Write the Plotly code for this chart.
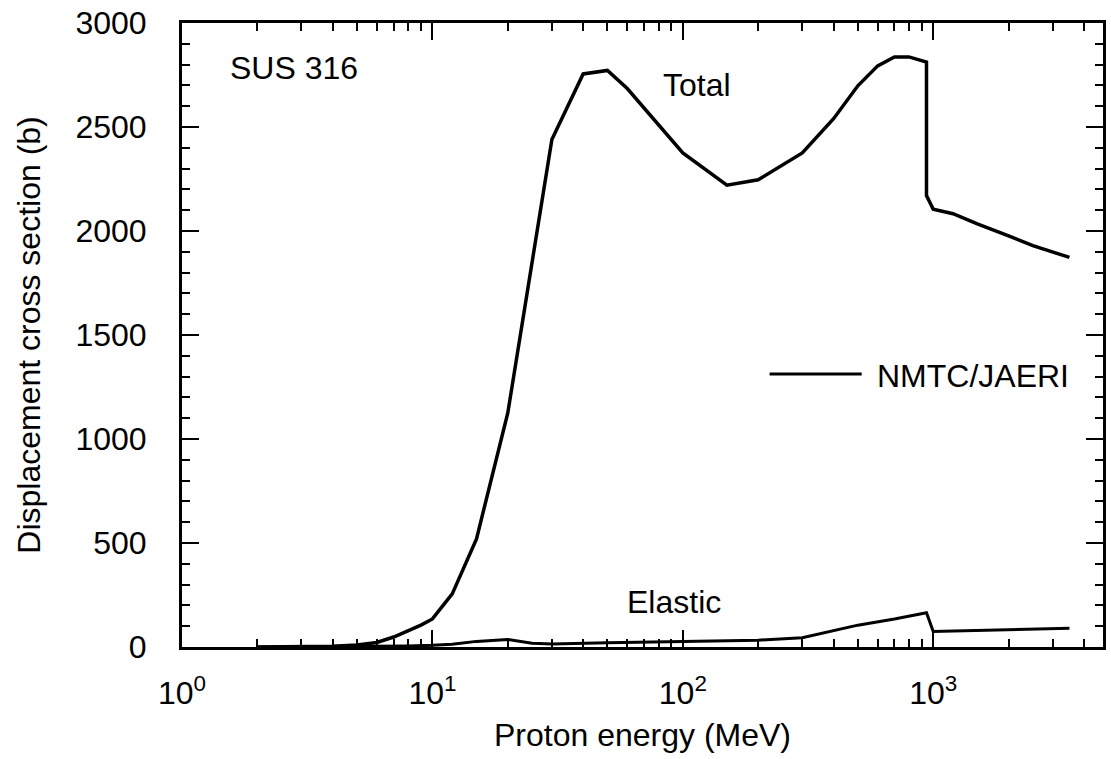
import plotly.graph_objects as go

# ---- data ----
energy_total = [2, 3, 4, 5, 6, 7, 8, 9, 10, 12, 15, 20, 30, 40, 50, 60, 100,
                150, 200, 300, 400, 500, 600, 700, 800, 940, 940, 1000, 1200,
                1500, 2000, 2500, 3500]
total_xs = [0, 1, 4, 10, 22, 48, 78, 105, 135, 255, 520, 1125, 2440, 2755,
            2772, 2685, 2375, 2220, 2246, 2375, 2540, 2698, 2794, 2837, 2837,
            2812, 2170, 2105, 2083, 2034, 1977, 1930, 1873]

energy_elastic = [2, 4, 6, 8, 10, 12, 15, 20, 25, 30, 50, 100, 150, 200, 300,
                  500, 700, 940, 1000, 3500]
elastic_xs = [0, 1, 3, 5, 8, 13, 27, 36, 18, 14, 20, 26, 29, 33, 45, 105, 135,
              165, 75, 90]

x_major = [1, 10, 100, 1000]
x_major_text = ["10<sup>0</sup>", "10<sup>1</sup>", "10<sup>2</sup>", "10<sup>3</sup>"]
x_minor = [m * d for d in (1, 10, 100) for m in range(2, 10)] + [2000, 3000, 4000]
y_minor = [v for v in range(100, 3000, 100) if v % 500 != 0]

FONT = "Liberation Sans, Arial, Helvetica, sans-serif"
FS = 32
X_RANGE = [0, 3.678]
Y_RANGE = [0, 3000]

fig = go.Figure()
fig.add_trace(go.Scatter(x=energy_total, y=total_xs, mode="lines",
                         line=dict(color="black", width=3.5),
                         name="Total", showlegend=False))
fig.add_trace(go.Scatter(x=energy_elastic, y=elastic_xs, mode="lines",
                         line=dict(color="black", width=3),
                         name="Elastic", showlegend=False))
# invisible helper trace so the top/right tick axes are drawn
fig.add_trace(go.Scatter(x=energy_total, y=total_xs, mode="lines",
                         line=dict(color="rgba(0,0,0,0)", width=0),
                         xaxis="x2", yaxis="y2", hoverinfo="skip",
                         showlegend=False))

tick_common = dict(ticks="inside", tickwidth=2, tickcolor="black",
                   showgrid=False, zeroline=False)

fig.update_layout(
    width=1111, height=759,
    margin=dict(l=182, r=5, t=23, b=112),
    plot_bgcolor="white", paper_bgcolor="white",
    font=dict(family=FONT, size=FS, color="black"),
    xaxis=dict(
        type="log", range=X_RANGE,
        showline=True, linewidth=3, linecolor="black", mirror=True,
        ticklen=17, tickvals=x_major, ticktext=x_major_text,
        tickfont=dict(size=FS), ticklabelstandoff=16,
        minor=dict(tickmode="array", tickvals=x_minor, ticks="inside",
                   ticklen=8, tickwidth=2, tickcolor="black", showgrid=False),
        title=dict(text="Proton energy (MeV)", font=dict(size=FS), standoff=14),
        **tick_common,
    ),
    xaxis2=dict(
        type="log", range=X_RANGE, overlaying="x", side="top",
        showline=False, ticklen=17, tickvals=x_major, showticklabels=False,
        minor=dict(tickmode="array", tickvals=x_minor, ticks="inside",
                   ticklen=8, tickwidth=2, tickcolor="black", showgrid=False),
        **tick_common,
    ),
    yaxis=dict(
        range=Y_RANGE,
        showline=True, linewidth=3, linecolor="black", mirror=True,
        ticklen=17, tickmode="linear", tick0=0, dtick=500,
        tickfont=dict(size=FS), ticklabelstandoff=26,
        minor=dict(tickmode="array", tickvals=y_minor, ticks="inside",
                   ticklen=8, tickwidth=2, tickcolor="black", showgrid=False),
        title=dict(text="Displacement cross section (b)", font=dict(size=FS),
                   standoff=26),
        **tick_common,
    ),
    yaxis2=dict(
        range=Y_RANGE, overlaying="y", side="right", anchor="x",
        showline=False, ticklen=17, tickmode="linear", tick0=0, dtick=500,
        showticklabels=False,
        minor=dict(tickmode="array", tickvals=y_minor, ticks="inside",
                   ticklen=8, tickwidth=2, tickcolor="black", showgrid=False),
        **tick_common,
    ),
)

annotations = [
    dict(x=0.05, y=0.928, text="SUS 316"),
    dict(x=0.52, y=0.90, text="Total"),
    dict(x=0.481, y=0.072, text="Elastic"),
    dict(x=0.752, y=0.434, text="NMTC/JAERI"),
]
for a in annotations:
    fig.add_annotation(xref="paper", yref="paper", x=a["x"], y=a["y"],
                       text=a["text"], showarrow=False, xanchor="left",
                       yanchor="middle", font=dict(size=FS, family=FONT))

# legend line sample
fig.add_shape(type="line", xref="paper", yref="paper",
              x0=0.638, x1=0.738, y0=0.4375, y1=0.4375,
              line=dict(color="black", width=3))

fig.write_html(
    "out.html",
    config={"displayModeBar": False},
    post_script="document.body.style.margin='0';document.body.style.overflow='hidden';",
)
